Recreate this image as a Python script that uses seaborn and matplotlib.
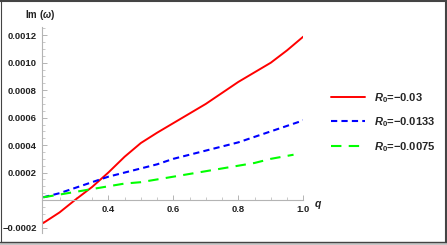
"""Im(omega) versus q for three values of R0, Mathematica-style axes."""

import matplotlib
matplotlib.use("Agg")
import matplotlib.pyplot as plt
from matplotlib.lines import Line2D
from matplotlib.patches import Rectangle
from matplotlib.ticker import MultipleLocator, FixedLocator
import pandas as pd
import seaborn as sns

# Values.
Q_RED = [0.2, 0.25, 0.3, 0.35, 0.4, 0.45, 0.5, 0.55, 0.6, 0.65, 0.7, 0.75, 0.8, 0.85, 0.9, 0.95, 1.0]
IM_RED = [-0.000167, -0.00009, 0.000005, 0.000095, 0.0002, 0.000315, 0.000415, 0.00049, 0.00056,
          0.00063, 0.0007, 0.00078, 0.00086, 0.00093, 0.001, 0.00109, 0.00119]
Q_BLUE = [0.2, 0.25, 0.3, 0.35, 0.4, 0.45, 0.5, 0.55, 0.6, 0.65, 0.7, 0.75, 0.8, 0.85, 0.9, 0.95, 1.0]
IM_BLUE = [0.00002, 0.00005, 0.00009, 0.00013, 0.00017, 0.0002, 0.00023, 0.00026, 0.0003,
           0.00033, 0.00036, 0.00039, 0.00042, 0.00046, 0.0005, 0.00054, 0.00058]
Q_GREEN = [0.2, 0.25, 0.3, 0.35, 0.4, 0.45, 0.5, 0.55, 0.6, 0.65, 0.7, 0.75, 0.8, 0.85, 0.9, 0.97]
IM_GREEN = [0.00002, 0.00004, 0.00006, 0.00008, 0.0001, 0.00012, 0.00013, 0.00015, 0.00017,
            0.00019, 0.00021, 0.00023, 0.00025, 0.00027, 0.0003, 0.00033]
LABELS = ["$R_0$=\u22120.03", "$R_0$=\u22120.0133", "$R_0$=\u22120.0075"]
X_TICKS = [0.4, 0.6, 0.8, 1.0]
X_TICK_LABELS = ["0.4", "0.6", "0.8", "1.0"]
Y_TICKS = [-0.0002, 0.0002, 0.0004, 0.0006, 0.0008, 0.0010, 0.0012]
Y_TICK_LABELS = ["\u22120.0002", "0.0002", "0.0004", "0.0006", "0.0008", "0.0010", "0.0012"]

W, H = 447, 245

sns.set_theme(style="white")
plt.rcParams["font.family"] = ["Liberation Sans", "DejaVu Sans"]
plt.rcParams["font.weight"] = "bold"
plt.rcParams["mathtext.fontset"] = "custom"
plt.rcParams["mathtext.rm"] = "Liberation Sans:bold"
plt.rcParams["mathtext.it"] = "Liberation Sans:italic:bold"

fig = plt.figure(figsize=(W / 100, H / 100), dpi=100)
fig.patch.set_facecolor("white")

# axes box in pixels: x 41.7..303.3, y 27..233
left, right, top, bottom = 41.7, 303.3, 27, 233
ax = fig.add_axes([left / W, 1 - bottom / H, (right - left) / W, (bottom - top) / H])
ax.set_facecolor("none")

df = pd.concat([
    pd.DataFrame({"q": Q_RED, "im": IM_RED, "series": LABELS[0]}),
    pd.DataFrame({"q": Q_BLUE, "im": IM_BLUE, "series": LABELS[1]}),
    pd.DataFrame({"q": Q_GREEN, "im": IM_GREEN, "series": LABELS[2]}),
])

styles = [
    ("#ff0000", "-", 1.4),
    ("#0000ff", (0, (3, 2)), 1.5),
    ("#00ff00", (0, (5, 3.5)), 1.5),
]
handles = []
for label, (color, ls, lw) in zip(LABELS, styles):
    sub = df[df["series"] == label]
    sns.lineplot(data=sub, x="q", y="im", ax=ax, color=color, linestyle=ls, linewidth=lw,
                 legend=False, sort=True, estimator=None)
    handles.append(Line2D([], [], color=color, linestyle=ls, linewidth=lw))

ax.set_xlim(0.195, 1.0)
ax.set_ylim(-0.00024, 0.00126)

axis_grey = "#b4b4b4"
for side in ["top", "right"]:
    ax.spines[side].set_visible(False)
ax.spines["bottom"].set_position(("data", 0))
ax.spines["bottom"].set_color(axis_grey)
ax.spines["left"].set_color(axis_grey)
ax.spines["bottom"].set_linewidth(0.8)
ax.spines["left"].set_linewidth(0.8)

ax.xaxis.set_major_locator(FixedLocator(X_TICKS))
ax.set_xticklabels(X_TICK_LABELS)
ax.xaxis.set_minor_locator(FixedLocator([0.25, 0.3, 0.35, 0.45, 0.5, 0.55, 0.65, 0.7, 0.75, 0.85, 0.9, 0.95]))
ax.yaxis.set_major_locator(FixedLocator(Y_TICKS))
ax.set_yticklabels(Y_TICK_LABELS)
ax.yaxis.set_minor_locator(MultipleLocator(0.00005))

ax.tick_params(axis="both", which="major", direction="in", length=3.5, width=0.7,
               color=axis_grey, labelsize=6.8, labelcolor="#222222")
ax.tick_params(axis="both", which="minor", direction="in", length=2, width=0.5, color=axis_grey)
ax.tick_params(axis="x", which="both", bottom=True, pad=3.5)
ax.tick_params(axis="y", which="both", left=True, pad=3.5)
ax.set_xlabel("")
ax.set_ylabel("")

fig.text(40 / W, 1 - 15 / H, "Im ($\\omega$)", ha="center", va="center", fontsize=7,
         color="#222222")
fig.text(318 / W, 1 - 205 / H, "$q$", ha="center", va="center", fontsize=7.5, color="#222222")

fig.legend(handles, LABELS, loc="upper left", bbox_to_anchor=(331 / W, 1 - 91 / H),
           frameon=False, fontsize=8, handlelength=3.1, handletextpad=0.75,
           labelspacing=0.95, borderaxespad=0, borderpad=0)

# screenshot-like border
fig.add_artist(Rectangle((0, 0), 1, 3.5 / H, transform=fig.transFigure,
                         facecolor="#c8c8c8", edgecolor="none"))
for xs, ys, lw in [
    ([0, 1], [1 - 1 / H, 1 - 1 / H], 1.5),
    ([0, 1], [1 - 241.5 / H, 1 - 241.5 / H], 1.0),
    ([0.5 / W, 0.5 / W], [1 - 241.5 / H, 1], 0.8),
    ([446 / W, 446 / W], [1 - 241.5 / H, 1], 1.5),
]:
    fig.add_artist(Line2D(xs, ys, transform=fig.transFigure, color="#444444", linewidth=lw))

fig.savefig("out.png", dpi=100)
